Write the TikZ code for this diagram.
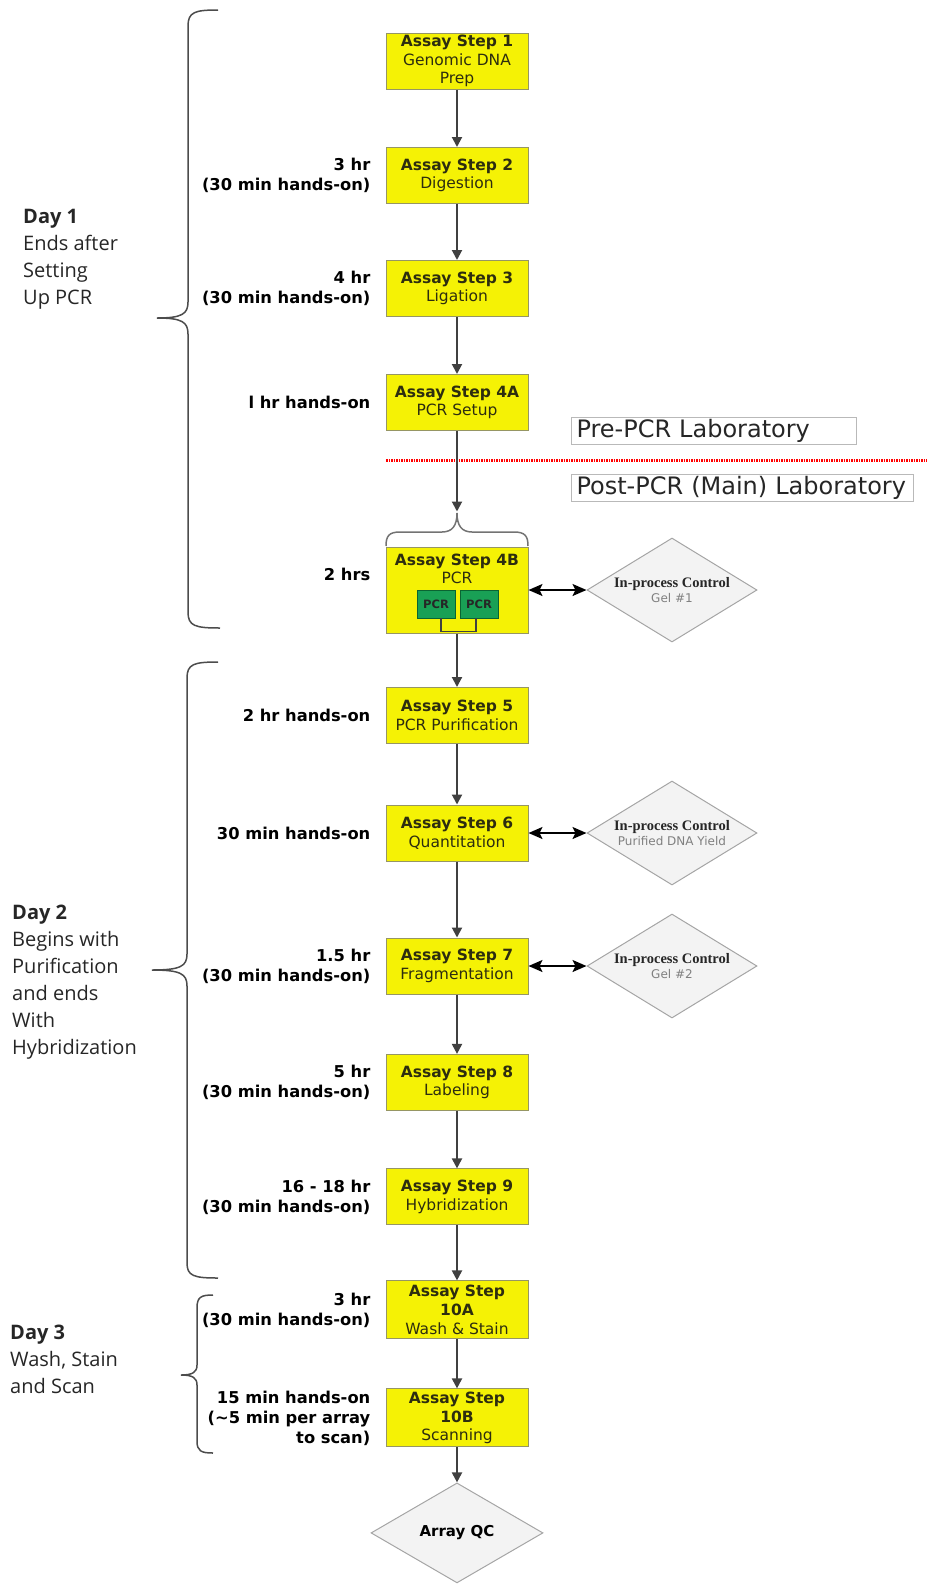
\documentclass[tikz,border=0pt]{standalone}
\usepackage{fontspec}
\setmainfont{DejaVu Sans}
\newfontfamily\dayfont{Open Sans}
\newfontfamily\ctlfont{Liberation Serif}
\usepackage{xcolor}
\usepackage{tikz}
\usetikzlibrary{shapes,arrows.meta,positioning,calc}
\definecolor{stepyellow}{RGB}{245, 242, 5}
\definecolor{stepedge}{RGB}{150, 150, 100}
\definecolor{steptext}{RGB}{45, 45, 15}
\definecolor{arrowgray}{RGB}{64, 64, 64}
\definecolor{ctlfill}{RGB}{243, 243, 243}
\definecolor{ctledge}{RGB}{165, 165, 165}
\definecolor{pcrgreen}{RGB}{25, 160, 85}
\definecolor{pcredge}{RGB}{10, 100, 50}
\definecolor{labedge}{RGB}{185, 185, 185}

\begin{document}
\begin{tikzpicture}[x=1pt, y=-1pt,
    stepbox/.style={rectangle, draw=stepedge, fill=stepyellow, line width=1pt, minimum width=142pt, minimum height=56pt, inner sep=1pt, align=center, text=steptext, font=\fontsize{15.5}{18.7}\selectfont},
    ctl/.style={diamond, aspect=1.635, draw=ctledge, fill=ctlfill, line width=1pt, minimum width=170pt, minimum height=104pt, inner sep=-4pt, align=center, text=gray, font=\fontsize{12}{15}\selectfont},
    qcbox/.style={diamond, aspect=1.72, draw=ctledge, fill=ctlfill, line width=1pt, minimum width=172pt, minimum height=100pt, inner sep=0pt, font=\bfseries\fontsize{15}{18}\selectfont},
    pcrbox/.style={rectangle, draw=pcredge, fill=pcrgreen, line width=0.8pt, minimum width=38pt, minimum height=28pt, inner sep=0pt, text=black!85, font=\bfseries\fontsize{11.5}{13}\selectfont},
    timelbl/.style={align=right, inner sep=0pt, font=\bfseries\fontsize{16.3}{20}\selectfont},
    daytext/.style={align=left, inner sep=0pt, anchor=north west, text=black!85, font=\dayfont\fontsize{20}{27}\selectfont},
    labbox/.style={rectangle, draw=labedge, fill=white, line width=1pt, anchor=west, inner xsep=5pt, inner ysep=0pt, minimum height=27pt, align=left, text=black!85, font=\fontsize{24}{27}\selectfont},
    arrow/.style={-{Triangle[length=10pt, width=10pt]}, line width=2pt, arrowgray},
    dblarrow/.style={{Stealth[length=14pt, width=12pt, inset=3pt]}-{Stealth[length=14pt, width=12pt, inset=3pt]}, line width=1.8pt, black},
    bracepen/.style={line width=1.5pt, black!70},
    labline/.style={red, line width=3pt, dash pattern=on 1.5pt off 1pt}
]
    \useasboundingbox (0,0) rectangle (927,1585);

    % day braces
    \draw[bracepen] (218,10) .. controls (195,10) and (188,12) .. (188,26) -- (188,302) .. controls (188,314) and (182,318) .. (157,318) .. controls (182,318) and (188,322) .. (188,334) -- (188,612) .. controls (188,626) and (195,628) .. (220,628);
    \draw[bracepen] (218,662) .. controls (194,662) and (187,664) .. (187,678) -- (187,954) .. controls (187,966) and (181,970) .. (152,970) .. controls (181,970) and (187,974) .. (187,986) -- (187,1263) .. controls (187,1276) and (194,1278) .. (218,1278);
    \draw[bracepen] (213,1295) .. controls (201,1295) and (197,1297) .. (197,1308) -- (197,1365) .. controls (197,1372) and (193,1375) .. (181,1375) .. controls (193,1375) and (197,1378) .. (197,1385) -- (197,1441) .. controls (197,1451) and (201,1453) .. (213,1453);

    \node[daytext] (d1) at (23,209) {\textbf{Day 1}\\Ends after\\Setting\\Up PCR};
    \node[daytext] (d2) at (12,905) {\textbf{Day 2}\\Begins with\\Purification\\and ends\\With\\Hybridization};
    \node[daytext] (d3) at (10,1325) {\textbf{Day 3}\\Wash, Stain\\and Scan};

    % lab split
    \draw[labline] (386,460) -- (927,460);
    \node[labbox, text width=275pt] (pre) at (571,431) {Pre-PCR Laboratory};
    \node[labbox, text width=332pt] (post) at (571,488) {Post-PCR (Main) Laboratory};

    % assay steps
    \node[stepbox] (s1) at (457,61) {\textbf{Assay Step 1}\\Genomic DNA\\Prep};
    \node[stepbox, below=57.5pt of s1] (s2) {\textbf{Assay Step 2}\\Digestion};
    \node[stepbox, below=56pt of s2] (s3) {\textbf{Assay Step 3}\\Ligation};
    \node[stepbox, below=57pt of s3] (s4a) {\textbf{Assay Step 4A}\\PCR Setup};
    \node[stepbox, below=115.5pt of s4a, minimum height=86pt] (s4b) {};
    \node[anchor=north, align=center, inner sep=0pt, text=steptext, font=\fontsize{15.5}{18.7}\selectfont] (s4bt) at ($(s4b.north)+(0,7)$) {\textbf{Assay Step 4B}\\PCR};
    \node[pcrbox] (pcra) at ($(s4b.center)+(-21,14)$) {PCR};
    \node[pcrbox] (pcrb) at ($(s4b.center)+(22,14)$) {PCR};
    \node[stepbox, below=53.5pt of s4b] (s5) {\textbf{Assay Step 5}\\PCR Purification};
    \node[stepbox, below=60.5pt of s5] (s6) {\textbf{Assay Step 6}\\Quantitation};
    \node[stepbox, below=76pt of s6] (s7) {\textbf{Assay Step 7}\\Fragmentation};
    \node[stepbox, below=59.4pt of s7] (s8) {\textbf{Assay Step 8}\\Labeling};
    \node[stepbox, below=57.5pt of s8] (s9) {\textbf{Assay Step 9}\\Hybridization};
    \node[stepbox, below=55pt of s9, minimum height=58pt] (s10a) {\textbf{Assay Step}\\\textbf{10A}\\Wash \& Stain};
    \node[stepbox, below=49pt of s10a, minimum height=58pt] (s10b) {\textbf{Assay Step}\\\textbf{10B}\\Scanning};
    \node[qcbox, below=35pt of s10b] (qc) {Array QC};

    % in-process controls
    \node[ctl, right=58pt of s4b] (c1) {\textcolor{black!85}{\ctlfont\bfseries\fontsize{14.5}{15}\selectfont In-process Control}\\Gel \#1};
    \node[ctl, right=58pt of s6] (c2) {\textcolor{black!85}{\ctlfont\bfseries\fontsize{14.5}{15}\selectfont In-process Control}\\Purified DNA Yield};
    \node[ctl, right=58pt of s7] (c3) {\textcolor{black!85}{\ctlfont\bfseries\fontsize{14.5}{15}\selectfont In-process Control}\\Gel \#2};

    % times
    \node[timelbl, left=15pt of s2] (t2) {3 hr\\(30 min hands-on)};
    \node[timelbl, left=15pt of s3] (t3) {4 hr\\(30 min hands-on)};
    \node[timelbl, left=15pt of s4a] (t4a) {l hr hands-on};
    \node[timelbl, left=15pt of s4b, yshift=16pt] (t4b) {2 hrs};
    \node[timelbl, left=15pt of s5] (t5) {2 hr hands-on};
    \node[timelbl, left=15pt of s6] (t6) {30 min hands-on};
    \node[timelbl, left=15pt of s7] (t7) {1.5 hr\\(30 min hands-on)};
    \node[timelbl, left=15pt of s8] (t8) {5 hr\\(30 min hands-on)};
    \node[timelbl, left=15pt of s9] (t9) {16 - 18 hr\\(30 min hands-on)};
    \node[timelbl, left=15pt of s10a] (t10a) {3 hr\\(30 min hands-on)};
    \node[timelbl, left=15pt of s10b] (t10b) {15 min hands-on\\(\textasciitilde5 min per array\\to scan)};

    % brace over the PCR step
    \draw[bracepen, black!55] (386,546) .. controls (386,536) and (389,532) .. (400,532) -- (442,532) .. controls (452,532) and (457,526) .. (457,513) .. controls (457,526) and (462,532) .. (472,532) -- (514,532) .. controls (525,532) and (528,536) .. (528,546);
    \coordinate (bt) at ($(s4b.north)+(0,-35)$);
    \draw[line width=1.5pt, arrowgray] ([xshift=5pt]pcra.south) |- ([yshift=2pt]s4b.south) -| ([xshift=-3pt]pcrb.south);

    \draw[arrow] (s1) -- (s2);
    \draw[arrow] (s2) -- (s3);
    \draw[arrow] (s3) -- (s4a);
    \draw[arrow] (s4a) -- (bt);
    \draw[arrow] (s4b) -- (s5);
    \draw[arrow] (s5) -- (s6);
    \draw[arrow] (s6) -- (s7);
    \draw[arrow] (s7) -- (s8);
    \draw[arrow] (s8) -- (s9);
    \draw[arrow] (s9) -- (s10a);
    \draw[arrow] (s10a) -- (s10b);
    \draw[arrow] (s10b) -- (qc);

    \draw[dblarrow] (s4b) -- (c1);
    \draw[dblarrow] (s6) -- (c2);
    \draw[dblarrow] (s7) -- (c3);
\end{tikzpicture}
\end{document}
